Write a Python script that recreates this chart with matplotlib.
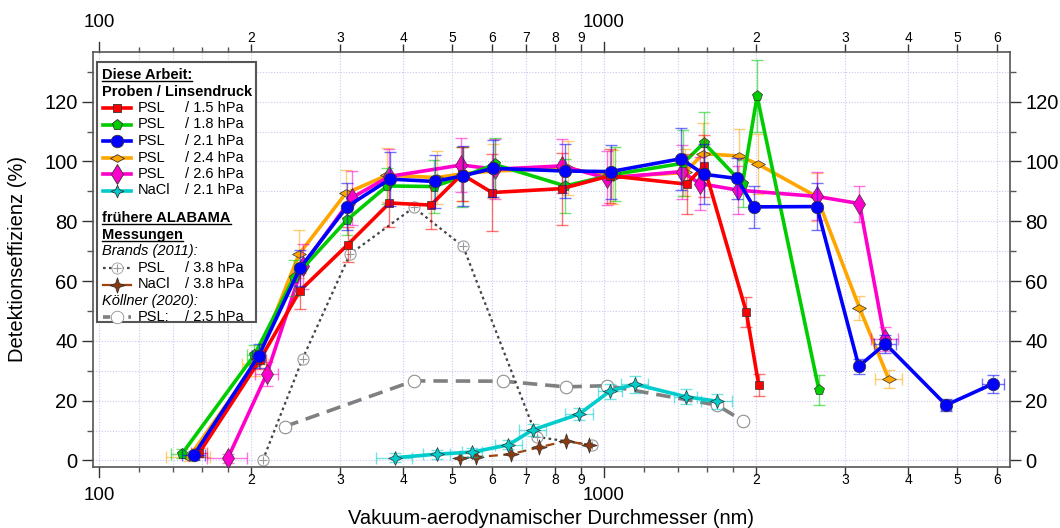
import numpy as np
import matplotlib
matplotlib.use("Agg")
import matplotlib.pyplot as plt
import matplotlib.transforms as mtransforms
from matplotlib.path import Path
from matplotlib.lines import Line2D
from matplotlib.patches import Rectangle
from matplotlib.ticker import FixedLocator, NullFormatter

plt.rcParams["font.family"] = ["Liberation Sans", "DejaVu Sans"]

# ---------------- data: diameter (nm), efficiency (%), errors ----------------
# PSL / 1.5 hPa
psl15_d = [158, 208, 250, 311, 376, 454, 523, 600, 825, 1028, 1457, 1577, 1914, 2025]
psl15_e = [2.6, 33.5, 56.8, 72.2, 86.1, 85.4, 95.7, 89.6, 90.9, 95.2, 92.4, 98.5, 49.6, 25.2]
psl15_ye = [1.5, 3, 6, 6, 8, 8, 9, 13, 12, 9, 10, 10.5, 5, 3.7]
psl15_xe = [6, 6, 0, 0, 0, 0, 0, 0, 0, 0, 0, 0, 0, 0]

# PSL / 1.8 hPa
psl18_d = [146, 203, 243, 310, 372, 460, 523, 607, 838, 1051, 1435, 1577, 1881, 2010, 2664]
psl18_e = [2.2, 35.2, 61, 80.5, 91.8, 91.6, 94.8, 99, 91.8, 95.7, 99.4, 106.2, 92.6, 121.8, 23.7]
psl18_ye = [1.5, 3.5, 6, 5, 6, 9, 10, 9, 9, 9, 11, 10.3, 8, 12, 5]
psl18_xe = [7, 7, 0, 0, 0, 0, 0, 0, 0, 0, 0, 0, 0, 0, 0]

# PSL / 2.1 hPa
psl21_d = [154, 207, 250, 310, 377, 462, 526, 604, 838, 1031, 1420, 1577, 1834, 1979, 2639,
           3196, 3609, 4758, 5903]
psl21_e = [1.7, 34.9, 64.3, 84.9, 94.1, 93.3, 95.2, 97.7, 96.8, 96.6, 100.9, 95.7, 94.3, 84.8, 84.9,
           31.5, 39, 18.5, 25.7]
psl21_ye = [1.5, 4, 6, 8, 9, 9, 10, 9.5, 9, 9, 10.3, 10, 7, 7, 8,
            2.5, 3, 2, 3]
psl21_xe = [8, 6, 0, 0, 0, 0, 0, 0, 0, 0, 0, 0, 0, 0, 0,
            0, 180, 100, 300]

# PSL / 2.4 hPa
psl24_d = [151, 204, 249, 308, 372, 467, 526, 604, 850, 1043, 1446, 1572, 1852, 2018, 2639,
           3206, 3664]
psl24_e = [1.2, 32.4, 69, 89.3, 95.4, 94.6, 95.9, 96.8, 97.7, 94.8, 96.3, 102.6, 101.8, 99.1, 88.2,
           51, 27.2]
psl24_ye = [1.5, 4, 8, 8, 9, 9, 9, 9, 9, 9, 8, 10.3, 9, 10, 8,
            4, 3]
psl24_xe = [15, 12, 0, 0, 0, 0, 0, 0, 0, 0, 0, 0, 0, 0, 0,
            0, 220]

# PSL / 2.6 hPa
psl26_d = [180, 215, 253, 317, 376, 522, 609, 825, 1015, 1424, 1548, 1842, 2639, 3206, 3596]
psl26_e = [0.8, 29, 65, 87.9, 95, 98.8, 97.4, 98.5, 94.4, 96.6, 92.6, 90.4, 88.3, 85.9, 40.7]
psl26_ye = [1.5, 4, 7.5, 9, 9, 9, 10, 9, 9, 9, 9, 8, 8, 6, 4]
psl26_xe = [16, 11, 0, 0, 0, 0, 0, 0, 0, 0, 0, 0, 0, 0, 220]

# NaCl / 2.1 hPa
nacl21_d = [385, 467, 549, 647, 722, 893, 1028, 1152, 1453, 1675]
nacl21_e = [0.9, 2.1, 2.8, 5.2, 10.2, 15.5, 23.2, 25.5, 21.3, 19.8]
nacl21_ye = [1.5, 1.5, 1.5, 1.5, 2, 2, 2.5, 2.8, 2.5, 2.5]
nacl21_xe = [32, 28, 25, 40, 44, 56, 57, 70, 78, 120]

# Brands (2011): PSL / 3.8 hPa and NaCl / 3.8 hPa
brands_psl_d = [211, 253, 314, 420, 526, 736, 946]
brands_psl_e = [0, 34, 69, 84.6, 71.6, 7.9, 5.1]
brands_nacl_d = [519, 559, 655, 745, 841, 933]
brands_nacl_e = [0.7, 1.1, 2.1, 4.4, 6.5, 5.2]

# Köllner (2020): PSL / 2.5 hPa
koellner_d = [233, 420, 631, 841, 1014, 1675, 1885]
koellner_e = [11.3, 26.6, 26.5, 24.6, 25, 18.5, 13.2]

# axis ticks
x_major = [200, 300, 400, 500, 600, 700, 800, 900,
           2000, 3000, 4000, 5000, 6000]
x_major_labels = ["2", "3", "4", "5", "6", "7", "8", "9",
                  "2", "3", "4", "5", "6"]
x_minor = [120, 140, 160, 180, 1200, 1400, 1600, 1800]
x_decades = [100, 1000]
y_major = [0, 20, 40, 60, 80, 100, 120]
y_minor = [10, 30, 50, 70, 90, 110, 130]

# ---------------- figure ----------------
W, H = 1060, 528
AX_L, AX_R, AX_T, AX_B = 93, 1010, 51.7, 467
fig = plt.figure(figsize=(W / 100, H / 100), dpi=100)
ax = fig.add_axes([AX_L / W, 1 - AX_B / H, (AX_R - AX_L) / W, (AX_B - AX_T) / H])
ax.set_xscale("log")
ax.set_xlim(97.3, 6368)
ax.set_ylim(-2.2, 136.7)
AXH = AX_B - AX_T

grid_kw = dict(color="#c9c9f2", linestyle=(0, (1, 1.5)), linewidth=0.8, zorder=0)
for xv in x_decades + x_major + x_minor:
    ax.axvline(xv, **grid_kw)
for yv in y_major + y_minor:
    ax.axhline(yv, **grid_kw)

wide_diamond = Path([(-1, 0), (0, 0.55), (1, 0), (0, -0.55), (-1, 0)],
                    [Path.MOVETO, Path.LINETO, Path.LINETO, Path.LINETO, Path.CLOSEPOLY])
star4 = Path([(0, 1), (0.25, 0.25), (1, 0), (0.25, -0.25), (0, -1), (-0.25, -0.25),
              (-1, 0), (-0.25, 0.25), (0, 1)],
             [Path.MOVETO] + [Path.LINETO] * 7 + [Path.CLOSEPOLY])
star4_fat = Path([(0, 1), (0.3, 0.3), (1, 0), (0.3, -0.3), (0, -1), (-0.3, -0.3),
                  (-1, 0), (-0.3, 0.3), (0, 1)],
                 [Path.MOVETO] + [Path.LINETO] * 7 + [Path.CLOSEPOLY])

series = [
    # d, e, ye, xe, color, marker, ms, lw, zorder
    (psl24_d, psl24_e, psl24_ye, psl24_xe, "#ffa500", wide_diamond, 10, 2.6, 5),
    (psl26_d, psl26_e, psl26_ye, psl26_xe, "#ff00cc", "d", 10, 2.6, 6),
    (psl18_d, psl18_e, psl18_ye, psl18_xe, "#00cc00", "p", 8, 2.6, 7),
    (psl15_d, psl15_e, psl15_ye, psl15_xe, "#ff0000", "s", 5.5, 2.6, 8),
    (psl21_d, psl21_e, psl21_ye, psl21_xe, "#0000ff", "o", 9, 2.6, 9),
    (nacl21_d, nacl21_e, nacl21_ye, nacl21_xe, "#00cccc", star4_fat, 10, 2.6, 4),
]

# earlier measurements underneath
ax.plot(koellner_d, koellner_e, color="#808080", lw=2.6, ls=(0, (4, 2.2)),
        marker="o", ms=9, mfc="white", mec="#909090", mew=0.8, zorder=2)
ax.plot(brands_psl_d, brands_psl_e, color="#444444", lw=1.6, ls=(0, (1.2, 1.5)), zorder=2)
ax.plot(brands_psl_d, brands_psl_e, ls="none", marker="o", ms=8, mfc="white",
        mec="#9a9a9a", mew=0.8, zorder=2.1)
ax.plot(brands_psl_d, brands_psl_e, ls="none", marker="+", ms=6, mec="#9a9a9a",
        mew=0.8, zorder=2.2)
ax.plot(brands_nacl_d, brands_nacl_e, color="#a0420f", lw=1.6, ls=(0, (4, 2.5)),
        marker=star4, ms=11, mfc="#8b3a0f", mec="#333333", mew=0.5, zorder=3)

for d, e, ye, xe, c, m, ms, lw, z in series:
    d = np.asarray(d, float); e = np.asarray(e, float)
    ye = np.asarray(ye, float); xe = np.asarray(xe, float)
    ax.errorbar(d, e, yerr=ye, fmt="none", ecolor=c, elinewidth=1.0, capsize=4,
                capthick=1.0, alpha=0.55, zorder=z - 0.5)
    sel = xe > 0
    if sel.any():
        ax.errorbar(d[sel], e[sel], xerr=xe[sel], fmt="none", ecolor=c, elinewidth=1.0,
                    capsize=4, capthick=1.0, alpha=0.55, zorder=z - 0.5)
    ax.plot(d, e, color=c, lw=lw, marker=m, ms=ms, mfc=c, mec="#333333", mew=0.5,
            zorder=z)

# ---------------- axes styling ----------------
for sp in ax.spines.values():
    sp.set_color("#555555")
    sp.set_linewidth(1.2)

ax.xaxis.set_major_locator(FixedLocator(x_major))
ax.xaxis.set_major_formatter(NullFormatter())
ax.xaxis.set_minor_locator(FixedLocator(x_minor))
ax.xaxis.set_minor_formatter(NullFormatter())
ax.yaxis.set_major_locator(FixedLocator(y_major))
ax.yaxis.set_minor_locator(FixedLocator(y_minor))
ax.tick_params(axis="x", which="major", direction="out", length=6, width=1,
               top=True, colors="#333333")
ax.tick_params(axis="x", which="minor", direction="out", length=3.5, width=1,
               top=True, colors="#555555")
ax.tick_params(axis="y", which="major", direction="out", length=8, width=1,
               labelsize=14.5, right=True, labelright=True, pad=3, colors="#333333",
               labelcolor="black")
ax.tick_params(axis="y", which="minor", direction="out", length=4.5, width=1,
               right=True, colors="#555555")

# x tick labels on both sides; decades get longer ticks and larger labels
bt = mtransforms.blended_transform_factory(ax.transData, ax.transAxes)
def ay(py):
    return (AX_B - py) / AXH

for xv, lab in zip(x_major, x_major_labels):
    ax.text(xv, ay(480), lab, transform=bt, ha="center", va="center", fontsize=10)
    ax.text(xv, ay(38), lab, transform=bt, ha="center", va="center", fontsize=10)
for xv in x_decades:
    ax.plot([xv, xv], [0, ay(AX_B + 10)], transform=bt, color="#333333", lw=1, clip_on=False)
    ax.plot([xv, xv], [1, ay(AX_T - 10)], transform=bt, color="#333333", lw=1, clip_on=False)
    ax.text(xv, ay(495.5), str(xv), transform=bt, ha="center", va="center", fontsize=13.5)
    ax.text(xv, ay(22.5), str(xv), transform=bt, ha="center", va="center", fontsize=13.5)

fig.text(0.5 * (AX_L + AX_R) / W - 0.5 * 0 / W, 1 - 518 / H,
         "Vakuum-aerodynamischer Durchmesser (nm)", fontsize=14.5, ha="center", va="center")
fig.text(18 / W, 1 - 0.5 * (AX_T + AX_B) / H, "Detektionseffizienz (%)", fontsize=14.5,
         ha="center", va="center", rotation=90)

# ---------------- legend box ----------------
def fx(px):
    return px / W

def fy(py):
    return 1 - py / H

box = Rectangle((fx(97), fy(322)), fx(256) - fx(97), fy(62) - fy(322),
                transform=fig.transFigure, facecolor="white", edgecolor="#555555",
                lw=1.5, zorder=20)
fig.add_artist(box)

fs = 10.5
rows = []
def header(py, text, bold=True, italic=False, underline=False):
    t = fig.text(fx(102), fy(py), text, fontsize=fs, va="center", ha="left",
                 fontweight="bold" if bold else "normal",
                 fontstyle="italic" if italic else "normal", zorder=21)
    if underline:
        rows.append(t)
    return t

def entry(py, name, pres, color, ls, lw, marker, ms, mfc, mec, plus=False):
    ln = Line2D([fx(103), fx(131)], [fy(py), fy(py)], transform=fig.transFigure,
                color=color, ls=ls, lw=lw, zorder=21)
    mk = Line2D([fx(117)], [fy(py)], transform=fig.transFigure, ls="none",
                marker=marker, ms=ms, mfc=mfc, mec=mec, mew=0.6, zorder=22)
    fig.add_artist(ln); fig.add_artist(mk)
    if plus:
        fig.add_artist(Line2D([fx(117)], [fy(py)], transform=fig.transFigure, ls="none",
                              marker="+", ms=6, mec=mec, mew=0.8, zorder=23))
    fig.text(fx(138), fy(py), name, fontsize=fs, va="center", ha="left", zorder=21)
    fig.text(fx(185), fy(py), pres, fontsize=fs, va="center", ha="left", zorder=21)

header(75, "Diese Arbeit:", underline=True)
header(91.5, "Proben / Linsendruck")
entry(108, "PSL", "/ 1.5 hPa", "#ff0000", "-", 2.6, "s", 5.5, "#ff0000", "#333333")
entry(124.5, "PSL", "/ 1.8 hPa", "#00cc00", "-", 2.6, "p", 8, "#00cc00", "#333333")
entry(141, "PSL", "/ 2.1 hPa", "#0000ff", "-", 2.6, "o", 9, "#0000ff", "#333333")
entry(157.5, "PSL", "/ 2.4 hPa", "#ffa500", "-", 2.6, wide_diamond, 10, "#ffa500", "#333333")
entry(174, "PSL", "/ 2.6 hPa", "#ff00cc", "-", 2.6, "d", 10, "#ff00cc", "#333333")
entry(190.5, "NaCl", "/ 2.1 hPa", "#00cccc", "-", 2.6, star4_fat, 9, "#00cccc", "#333333")
header(218.5, "frühere ALABAMA", underline=True)
header(235, "Messungen", underline=True)
header(251.5, "Brands (2011):", bold=False, italic=True)
entry(268, "PSL", "/ 3.8 hPa", "#444444", (0, (1.2, 1.5)), 1.6, "o", 8, "white", "#9a9a9a",
      plus=True)
entry(284.5, "NaCl", "/ 3.8 hPa", "#a0420f", "-", 1.6, star4, 11, "#8b3a0f", "#333333")
header(301, "Köllner (2020):", bold=False, italic=True)
entry(317, "PSL:", "/ 2.5 hPa", "#808080", (0, (2, 1.5)), 2.6, "o", 9, "white", "#909090")

# underline headers
fig.canvas.draw()
rend = fig.canvas.get_renderer()
inv = fig.transFigure.inverted()
for t in rows:
    bb = t.get_window_extent(rend)
    (x0, y0), (x1, y1) = inv.transform([(bb.x0, bb.y0), (bb.x1, bb.y1)])
    fig.add_artist(Line2D([x0, x1], [y0 + 0.002, y0 + 0.002], transform=fig.transFigure,
                          color="black", lw=1.0, zorder=21))

fig.savefig("out.png", dpi=100)
